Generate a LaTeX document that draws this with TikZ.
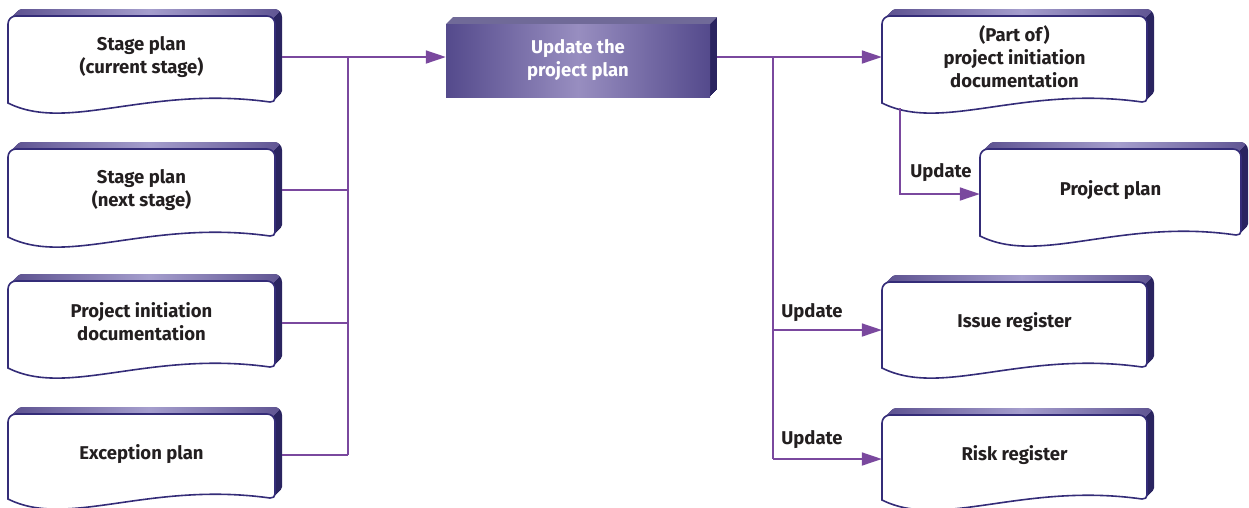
\documentclass[tikz,border=0pt]{standalone}
\usepackage{fontspec}
\setmainfont{Fira Sans}
\usetikzlibrary{arrows.meta}
\definecolor{conn}{RGB}{122,72,158}
\definecolor{outline}{RGB}{52,44,120}
\definecolor{sidecol}{RGB}{42,36,96}
\definecolor{topA}{RGB}{95,84,146}
\definecolor{topB}{RGB}{165,158,205}
\definecolor{cenA}{RGB}{84,74,140}
\definecolor{cenB}{RGB}{152,142,192}
\definecolor{cenTop}{RGB}{112,106,152}
\definecolor{textcol}{RGB}{35,31,32}
\tikzset{
  bodyline/.style={draw=outline,line width=1.6pt},
  docnode/.style={draw=none,inner sep=0pt,align=center,text=textcol,
    font=\bfseries\fontsize{18.5}{23}\selectfont},
  cennode/.style={draw=none,inner sep=0pt,align=center,text=white,
    font=\bfseries\fontsize{18.5}{23}\selectfont},
  lbl/.style={inner sep=0pt,text=textcol,font=\bfseries\fontsize{18.5}{22}\selectfont},
  conline/.style={draw=conn,line width=1.8pt},
  conarrow/.style={draw=conn,line width=1.8pt,-{Triangle[length=20pt,width=13pt]}},
}
\newcommand\docbox[6]{%
 \def\bp{({#1},{#4-10}) -- ({#1},{#2+8}) .. controls ({#1},{#2+3.5}) and ({#1+3.5},{#2}) .. ({#1+8},{#2}) -- ({#3-8},{#2}) .. controls ({#3-3.5},{#2}) and ({#3},{#2+3.5}) .. ({#3},{#2+8}) -- ({#3},{#4-15}) .. controls ({#3},{#4-12}) and ({#3-2},{#4-11}) .. ({#3-5},{#4-11}) .. controls ({#1+140},{#4-28}) and ({#1+60},{#4+20}) .. ({#1},{#4-10}) -- cycle}%
 \foreach \s in {1,...,7}{\fill[sidecol,shift={(\s,-\s)}] \bp;}%
 \begin{scope}
  \clip ({#1-20},{#2-20}) -- ({#3+20},{#2-20}) -- ({#3-12},{#2+12}) -- ({#1-20},{#2+12}) -- cycle;
  \foreach \s in {1,...,7}{\shade[left color=topA,right color=topA,middle color=topB,shift={(\s,-\s)}] \bp;}%
 \end{scope}
 \draw[bodyline,fill=white] \bp;
 \node[docnode,minimum width={#3-#1},minimum height={#4-#2-1}] (#5) at ({(#1+#3)/2},{(#2+#4-15)/2}) {#6};
}
\begin{document}
\begin{tikzpicture}[x=1pt,y=-1pt]
\useasboundingbox (0,0) rectangle (1249,507);
% left column
\docbox{8}{16}{275}{113}{b1}{Stage plan\\(current stage)}
\docbox{8}{149}{275}{247}{b2}{Stage plan\\(next stage)}
\docbox{8}{281}{275}{378}{b3}{Project initiation\\documentation}
\docbox{8}{414}{275}{509}{b4}{Exception plan}
% right column
\docbox{882}{16}{1147}{113}{pid}{(Part of)\\project initiation\\documentation}
\docbox{980}{149}{1241}{246}{pplan}{Project plan}
\docbox{882}{282}{1147}{378}{issue}{Issue register}
\docbox{882}{415}{1147}{510}{risk}{Risk register}
% central process box
\foreach \s in {1,...,7}{\fill[sidecol,shift={(\s,-\s)}] (446,24) rectangle (710,97);}
\fill[cenTop] (446,24) -- (453,17) -- (717,17) -- (710,24) -- cycle;
\shade[left color=cenA,right color=cenA,middle color=cenB] (446,24) rectangle (710,97);
\node[cennode,minimum width=264,minimum height=73] (update) at (578,60.5) {Update the\\project plan};
% junction coordinates
\coordinate (k1) at (348,57);
\coordinate (k2) at (348,190);
\coordinate (k3) at (348,323);
\coordinate (k4) at (348,455);
\coordinate (j1) at (773,57);
\coordinate (j2) at (773,330);
\coordinate (j3) at (773,459);
\coordinate (p0) at (900,108);
\coordinate (p1) at (900,194);
% left connectors
\draw[conarrow] ([xshift=7pt]b1.east |- k1) -- (update.west |- k1);
\draw[conline] ([xshift=7pt]b2.east |- k2) -- (k2);
\draw[conline] ([xshift=7pt]b3.east |- k3) -- (k3);
\draw[conline] ([xshift=7pt]b4.east |- k4) -- (k4);
\draw[conline] (k1) -- (k4);
% right connectors
\draw[conline] ([xshift=7pt]update.east |- j1) -- (j1);
\draw[conarrow] (j1) -- (pid.west |- j1);
\draw[conline] (j1) -- (j3);
\draw[conarrow] (j2) -- (issue.west |- j2);
\draw[conarrow] (j3) -- (risk.west |- j3);
\draw[conarrow] (p0) -- (p1) -- (pplan.west |- p1);
% labels
\node[lbl] (u1) at (941,173) {Update};
\node[lbl] (u2) at (812,313) {Update};
\node[lbl] (u3) at (812,440) {Update};
\end{tikzpicture}
\end{document}
